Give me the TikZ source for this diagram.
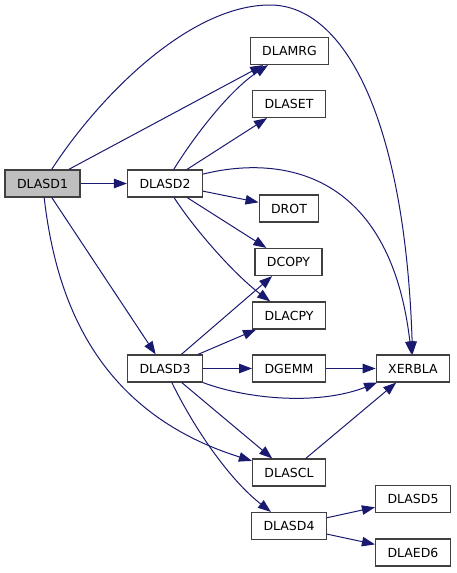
\documentclass[tikz,border=0pt]{standalone}
\usepackage{fontspec}
\setmainfont{DejaVu Sans}
\usetikzlibrary{positioning,arrows.meta}
\definecolor{edgeblue}{HTML}{191970}
\definecolor{rootgray}{HTML}{BFBFBF}

\begin{document}
\begin{tikzpicture}[x=1pt,y=-1pt,
		fn/.style={draw=black!75,line width=1.2pt,minimum height=27pt,inner xsep=12pt,font=\fontsize{12.5}{14}\selectfont},
		call/.style={draw=edgeblue,line width=1pt,-{Triangle[length=13pt,width=9.5pt]}}]
		\useasboundingbox (0,0) rectangle (456,573);
		\node[fn,fill=rootgray] (sd1) at (42.5,183.5) {DLASD1};
		\node[fn] (sd2) at (165,183.5) {DLASD2};
		\node[fn] (sd3) at (165,368.5) {DLASD3};
		\node[fn] (mrg) at (289.5,51) {DLAMRG};
		\node[fn] (set) at (289,104) {DLASET};
		\node[fn] (rot) at (289,208.5) {DROT};
		\node[fn] (copy) at (288.5,262) {DCOPY};
		\node[fn] (lacpy) at (289,315.5) {DLACPY};
		\node[fn] (gemm) at (289,368.5) {DGEMM};
		\node[fn] (scl) at (289,472.5) {DLASCL};
		\node[fn] (sd4) at (289,526) {DLASD4};
		\node[fn] (xer) at (413,368.5) {XERBLA};
		\node[fn] (sd5) at (413,499) {DLASD5};
		\node[fn] (ed6) at (413,552.5) {DLAED6};
		
		% DLASD1
		\draw[call] (sd1)--(sd2);
		\draw[call] (sd1)--(mrg);
		\draw[call] (sd1)--(sd3);
		\draw[call] (sd1) .. controls (100,95) and (190,5) .. (270,5) .. controls (345,5) and (405,120) .. (xer);
		\draw[call] (sd1) .. controls (55,290) and (90,410) .. (scl);
		% DLASD2
		\draw[call] (sd2) .. controls (195,135) and (230,90) .. (mrg);
		\draw[call] (sd2)--(set);
		\draw[call] (sd2) .. controls (280,155) and (390,170) .. (xer);
		\draw[call] (sd2)--(rot);
		\draw[call] (sd2)--(copy);
		\draw[call] (sd2) .. controls (195,230) and (235,275) .. (lacpy);
		% DLASD3
		\draw[call] (sd3)--(copy);
		\draw[call] (sd3)--(lacpy);
		\draw[call] (sd3)--(gemm);
		\draw[call] (sd3) .. controls (250,400) and (320,405) .. (xer);
		\draw[call] (sd3)--(scl);
		\draw[call] (sd3) .. controls (195,430) and (230,480) .. (sd4);
		% rest
		\draw[call] (gemm)--(xer);
		\draw[call] (scl)--(xer);
		\draw[call] (sd4)--(sd5);
		\draw[call] (sd4)--(ed6);
	\end{tikzpicture}
\end{document}
